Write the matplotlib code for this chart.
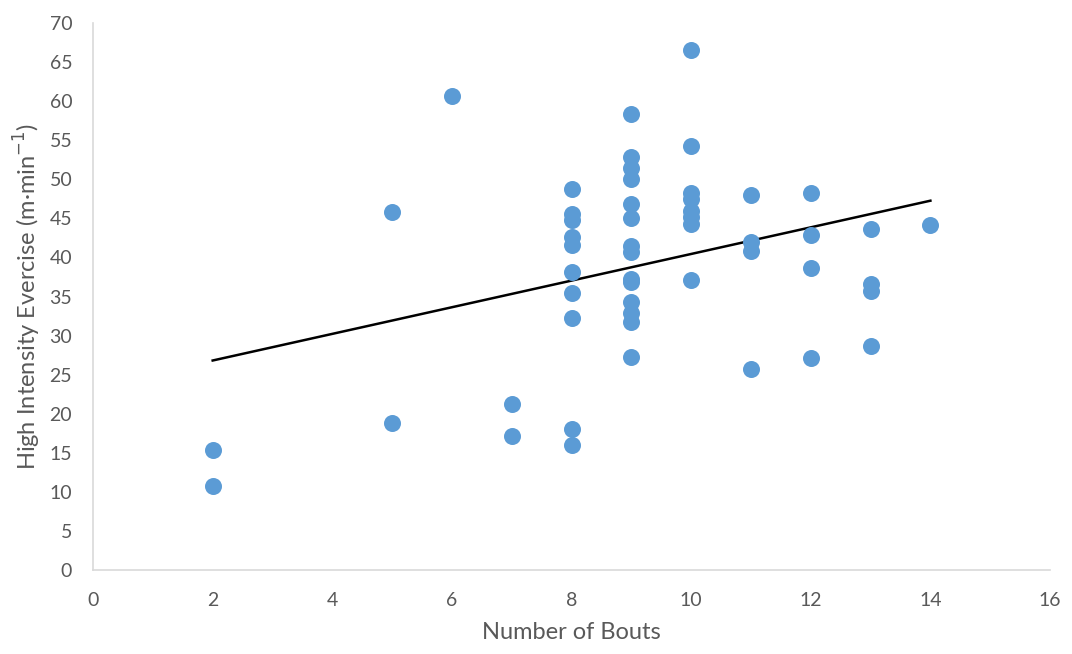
import numpy as np
import matplotlib.pyplot as plt

# Bouts and high intensity exercise values
bouts = [2, 2,
         5, 5,
         6,
         7, 7,
         8, 8, 8, 8, 8, 8, 8, 8, 8, 8,
         9, 9, 9, 9, 9, 9, 9, 9, 9, 9, 9, 9, 9, 9,
         10, 10, 10, 10, 10, 10, 10, 10,
         11, 11, 11, 11,
         12, 12, 12, 12,
         13, 13, 13, 13,
         14]
hie = [15.4, 10.8,
       45.8, 18.8,
       60.7,
       21.2, 17.1,
       48.8, 45.5, 44.8, 42.6, 41.6, 38.2, 35.5, 32.2, 18.0, 16.0,
       58.4, 52.9, 51.4, 50.0, 46.8, 45.0, 41.5, 40.7, 37.3, 36.9, 34.3, 32.9, 31.8, 27.3,
       66.5, 54.3, 48.2, 47.5, 46.0, 45.2, 44.3, 37.1,
       48.0, 42.0, 40.8, 25.7,
       48.3, 42.9, 38.6, 27.1,
       43.7, 36.6, 35.7, 28.7,
       44.2]

plt.rcParams['font.family'] = ['Lato', 'DejaVu Sans']

fig = plt.figure(figsize=(10.72, 6.54), dpi=100)
ax = fig.add_axes([0.0868, 0.1284, 0.8927, 0.8364])

ax.scatter(bouts, hie, s=150, color='#5B9BD5', zorder=3, linewidths=0)

# linear trendline
m, b = np.polyfit(bouts, hie, 1)
xl = np.array([min(bouts), max(bouts)])
ax.plot(xl, m * xl + b, color='black', linewidth=1.8, zorder=2)

ax.set_xlim(0, 16)
ax.set_ylim(0, 70)
ax.set_xticks(range(0, 17, 2))
ax.set_yticks(range(0, 71, 5))

for s in ['top', 'right']:
    ax.spines[s].set_visible(False)
for s in ['left', 'bottom']:
    ax.spines[s].set_color('#d9d9d9')
    ax.spines[s].set_linewidth(1.2)

ax.tick_params(length=0, labelsize=14, colors='#595959')
ax.tick_params(axis='y', pad=15)
ax.tick_params(axis='x', pad=16)

ax.set_xlabel('Number of Bouts', fontsize=17, color='#595959', labelpad=9)
ax.set_ylabel('High Intensity Evercise (m·min$^{-1}$)', fontsize=17, color='#595959', labelpad=5)

plt.savefig('out.png', dpi=100)
